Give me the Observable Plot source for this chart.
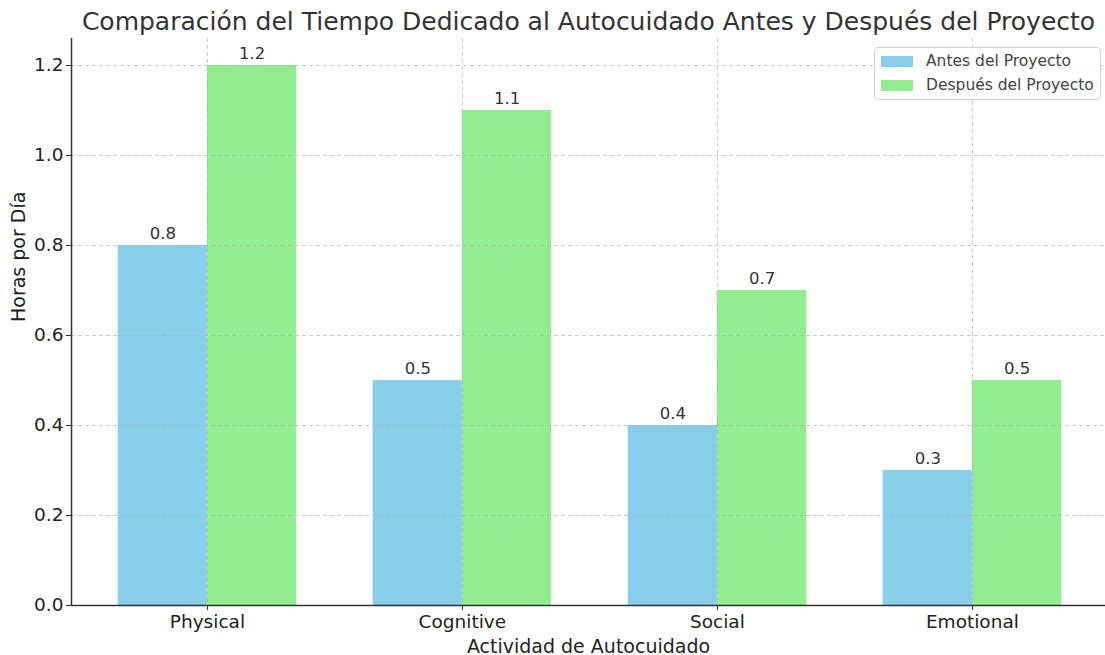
<!DOCTYPE html>
<html>
<head>
<meta charset="utf-8">
<script src="https://cdn.jsdelivr.net/npm/d3@7"></script>
<script src="https://cdn.jsdelivr.net/npm/@observablehq/plot@0.6"></script>
<style>
  html, body { margin: 0; padding: 0; background: #fff; overflow: hidden; }
  #wrap { position: relative; width: 1105px; height: 655px; font-family: "DejaVu Sans", sans-serif; }
  #legend { position: absolute; left: 874px; top: 47px; width: 227px; height: 53px; box-sizing: border-box;
    border: 1px solid #d0d0d0; border-radius: 4px; background: rgba(255,255,255,0.85); font-size: 15.5px; color: #444; }
  .row { position: absolute; left: 6px; height: 18px; display: flex; align-items: center; }
  .sw { width: 32px; height: 11px; margin-right: 13px; }
</style>
</head>
<body>
<div id="wrap"></div>
<script>
const categories = ["Physical", "Cognitive", "Social", "Emotional"];
const antes = [0.8, 0.5, 0.4, 0.3];
const despues = [1.2, 1.1, 0.7, 0.5];
const series = ["Antes del Proyecto", "Después del Proyecto"];
const colors = ["#87CEEB", "#90EE90"];
const yTicks = [0, 0.2, 0.4, 0.6, 0.8, 1.0, 1.2];
const barWidth = 0.35;
const xDomain = [-0.533, 3.522];

const data = categories.flatMap((c, i) => [
  {cat: c, i, serie: series[0], value: antes[i], x1: i - barWidth, x2: i},
  {cat: c, i, serie: series[1], value: despues[i], x1: i, x2: i + barWidth}
]);

const plot = Plot.plot({
  width: 1105,
  height: 655,
  marginLeft: 71,
  marginRight: 0,
  marginTop: 38,
  marginBottom: 50,
  style: {fontFamily: "DejaVu Sans, sans-serif", fontSize: "18.5px", color: "#333", background: "white"},
  x: {domain: xDomain},
  y: {domain: [0, 1.26]},
  color: {domain: series, range: colors},
  marks: [
    Plot.rect(data, {x1: "x1", x2: "x2", y1: 0, y2: "value", fill: "serie"}),
    Plot.gridY(yTicks, {stroke: "#b0b0b0", strokeOpacity: 0.7, strokeDasharray: "4,3"}),
    Plot.gridX([0, 1, 2, 3], {stroke: "#b0b0b0", strokeOpacity: 0.7, strokeDasharray: "4,3"}),
    Plot.text(data, {x: d => (d.x1 + d.x2) / 2, y: "value", text: d => d.value.toFixed(1), dy: -12, fontSize: 16.5, fill: "#333"}),
    Plot.axisY({ticks: yTicks, tickFormat: d3.format(".1f"), tickSize: 5, tickPadding: 3, stroke: "#333", fill: "#222",
      label: null, fontSize: 18.5}),
    Plot.axisX({ticks: [0, 1, 2, 3], tickFormat: i => categories[i], tickSize: 5, tickPadding: 4, stroke: "#333", fill: "#222",
      label: null, fontSize: 18.5}),
    Plot.text(["Horas por Día"], {frameAnchor: "left", dx: -53, rotate: -90, fontSize: 19, fill: "#222"}),
    Plot.text(["Actividad de Autocuidado"], {frameAnchor: "bottom", dy: 47, fontSize: 19, fill: "#222"}),
    Plot.ruleY([0], {stroke: "#333", strokeWidth: 1.5}),
    Plot.ruleX([xDomain[0]], {stroke: "#333", strokeWidth: 1.5}),
    Plot.text(["Comparación del Tiempo Dedicado al Autocuidado Antes y Después del Proyecto"],
      {frameAnchor: "top", dy: -26, fontSize: 25, fill: "#333"})
  ]
});

const wrap = document.getElementById("wrap");
wrap.appendChild(plot);

const legend = document.createElement("div");
legend.id = "legend";
series.forEach((s, k) => {
  const row = document.createElement("div");
  row.className = "row";
  row.style.top = (4 + k * 24) + "px";
  row.innerHTML = `<div class="sw" style="background:${colors[k]}"></div><span>${s}</span>`;
  legend.appendChild(row);
});
wrap.appendChild(legend);
</script>
</body>
</html>
